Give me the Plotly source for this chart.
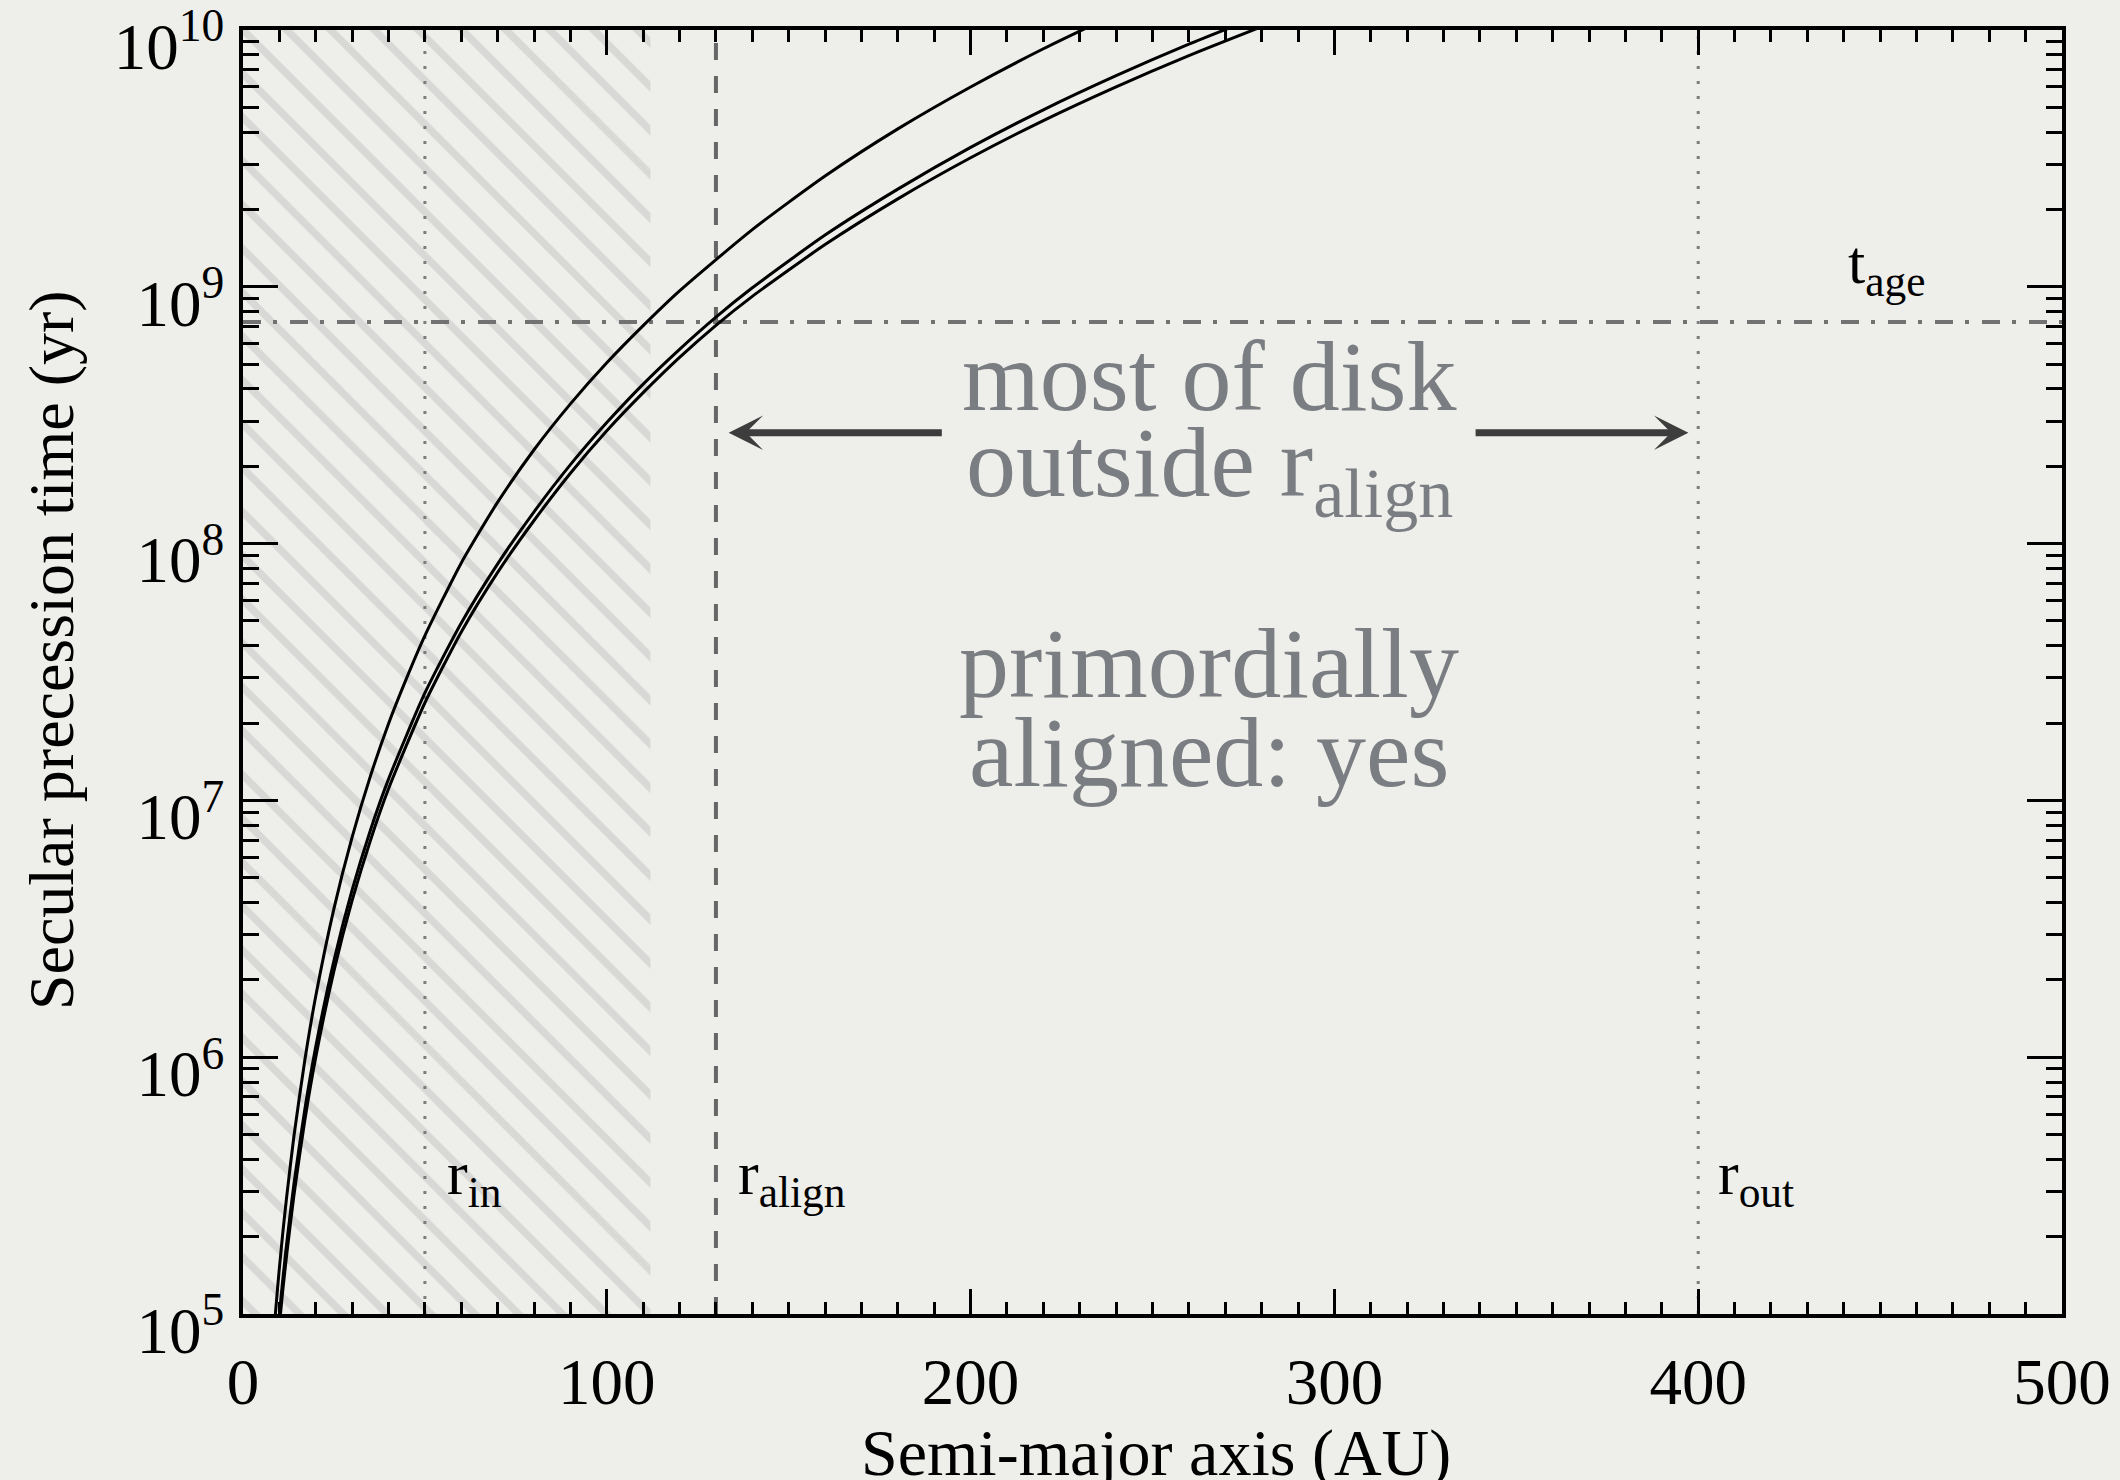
import plotly.graph_objects as go

# Secular precession time vs semi-major axis for three perturber models
a_1 = [8.8, 9.5, 10, 11, 12, 14, 17, 20, 25, 30, 35, 40, 45, 50, 60, 70, 80, 90,
       100, 110, 120, 140, 160, 180, 200, 220, 235]
t_1 = [9.6e4, 1.26e5, 1.51e5, 2.11e5, 2.86e5, 4.92e5, 9.75e5, 1.73e6, 3.79e6,
       7.19e6, 1.24e7, 1.99e7, 3.00e7, 4.38e7, 8.41e7, 1.45e8, 2.32e8, 3.50e8,
       5.06e8, 7.06e8, 9.64e8, 1.67e9, 2.70e9, 4.12e9, 6.00e9, 8.45e9, 1.07e10]

a_2 = [9.9, 10.5, 11, 12, 14, 17, 20, 25, 30, 35, 40, 50, 60, 70, 80, 90, 100,
       110, 120, 130, 140, 160, 180, 200, 220, 240, 260, 272]
t_2 = [9.66e4, 1.18e5, 1.39e5, 1.88e5, 3.21e5, 6.27e5, 1.10e6, 2.38e6, 4.48e6,
       7.64e6, 1.21e7, 2.62e7, 4.91e7, 8.34e7, 1.33e8, 2.03e8, 2.96e8, 4.18e8,
       5.71e8, 7.62e8, 9.91e8, 1.59e9, 2.40e9, 3.49e9, 4.89e9, 6.64e9, 8.81e9, 1.03e10]

a_3 = [10.2, 10.5, 11, 12, 14, 17, 20, 25, 30, 35, 40, 50, 60, 70, 80, 90, 100,
       110, 120, 130, 140, 160, 180, 200, 220, 240, 260, 280]
t_3 = [9.67e4, 1.07e5, 1.26e5, 1.70e5, 2.90e5, 5.69e5, 1.00e6, 2.17e6, 4.08e6,
       6.97e6, 1.11e7, 2.40e7, 4.53e7, 7.73e7, 1.23e8, 1.88e8, 2.75e8, 3.87e8,
       5.31e8, 7.08e8, 9.18e8, 1.46e9, 2.20e9, 3.18e9, 4.44e9, 6.01e9, 7.95e9, 1.03e10]

# Characteristic radii (AU) and system age (yr)
r_in = 50
r_align = 130
r_out = 400
r_hatch = 112
t_age = 7.3e8

x_range = [0, 500]
y_range = [1e5, 1e10]
y_exponents = [5, 6, 7, 8, 9, 10]

x_title = "Semi-major axis (AU)"
y_title = "Secular precession time (yr)"

SERIF = "Liberation Serif"
BG = "#eeeeea"
TEXT_GREY = "#7a7d81"

fig = go.Figure()

# hatched inner region
fig.add_trace(go.Scatter(
    x=[0, r_hatch, r_hatch, 0, 0],
    y=[y_range[0], y_range[0], y_range[1], y_range[1], y_range[0]],
    mode="lines", fill="toself", line=dict(width=0),
    fillcolor="rgba(0,0,0,0)",
    fillpattern=dict(shape="\\", fgcolor="#c2c2c2", bgcolor="rgba(0,0,0,0)",
                     size=31, solidity=0.24),
    hoverinfo="skip", showlegend=False,
))

# reference radii
for r, dash, color, w in [(r_in, "3px,12px", "#7c7c7c", 3),
                          (r_align, "17px,16px", "#666666", 4),
                          (r_out, "3px,12px", "#7c7c7c", 3)]:
    fig.add_trace(go.Scatter(x=[r, r], y=y_range, mode="lines",
                             line=dict(color=color, width=w, dash=dash),
                             hoverinfo="skip", showlegend=False))

# system age
fig.add_trace(go.Scatter(x=x_range, y=[t_age, t_age], mode="lines",
                         line=dict(color="#727272", width=4, dash="18px,12px,4px,13px"),
                         hoverinfo="skip", showlegend=False))

# precession-time curves
for a, t in [(a_1, t_1), (a_2, t_2), (a_3, t_3)]:
    fig.add_trace(go.Scatter(x=a, y=t, mode="lines",
                             line=dict(color="black", width=3, shape="spline", smoothing=0.6),
                             showlegend=False))

annotations = [
    dict(x=55.5, y=5.53, text="r<sub>in</sub>", xanchor="left"),
    dict(x=135.6, y=5.53, text="r<sub>align</sub>", xanchor="left"),
    dict(x=405, y=5.53, text="r<sub>out</sub>", xanchor="left"),
    dict(x=440.7, y=9.08, text="t<sub>age</sub>", xanchor="left"),
]
for ann in annotations:
    ann.update(xref="x", yref="y", showarrow=False, yanchor="middle",
               font=dict(family=SERIF, size=62, color="black"))

big_lines = [
    ("most of disk", 8.652),
    ("outside r<sub>align</sub>", 8.290),
    ("primordially", 7.534),
    ("aligned: yes", 7.188),
]
for txt, yy in big_lines:
    annotations.append(dict(x=265.6, y=yy, text=txt, xref="x", yref="y",
                            showarrow=False, xanchor="center", yanchor="middle",
                            font=dict(family=SERIF, size=100, color=TEXT_GREY)))

# arrows spanning the aligned part of the disk
arrow_y = 8.432
for tip, tail in [(133.5, 192.5), (397.3, 338.4)]:
    annotations.append(dict(x=tip, y=arrow_y, ax=tail, ay=arrow_y,
                            xref="x", yref="y", axref="x", ayref="y",
                            text="", showarrow=True, arrowhead=3, arrowsize=0.82,
                            arrowwidth=7, arrowcolor="#3d3d3d", standoff=0))

# axis titles
annotations.append(dict(x=0.502, y=-0.108, xref="paper", yref="paper", text=x_title,
                        showarrow=False, xanchor="center", yanchor="middle",
                        font=dict(family=SERIF, size=66, color="black")))
annotations.append(dict(x=-0.1056, y=0.517, xref="paper", yref="paper", text=y_title,
                        textangle=-90, showarrow=False, xanchor="center", yanchor="middle",
                        font=dict(family=SERIF, size=64, color="black")))

minor_y = [m * 10 ** e for e in range(5, 10) for m in range(2, 10)]

axis_common = dict(showline=True, linewidth=3.5, linecolor="black", mirror="ticks",
                   ticks="inside", tickwidth=3, tickcolor="black",
                   showgrid=False, zeroline=False, automargin=False,
                   ticklabeloverflow="allow",
                   tickfont=dict(family=SERIF, size=65, color="black"))

fig.update_layout(
    width=2120, height=1480,
    margin=dict(l=243, r=58, t=30, b=166, pad=0),
    paper_bgcolor=BG, plot_bgcolor=BG,
    showlegend=False,
    annotations=annotations,
    xaxis=dict(range=x_range, tick0=0, dtick=100, ticklen=25,
               ticklabelstandoff=8,
               minor=dict(ticks="inside", ticklen=12, tickwidth=3, dtick=10,
                          tickcolor="black", showgrid=False),
               **axis_common),
    yaxis=dict(type="log", range=[5, 10], tickmode="array",
               tickvals=[10 ** e for e in y_exponents],
               ticktext=[f"10<sup>{e}</sup>" for e in y_exponents],
               ticklen=35, ticklabelstandoff=2, ticklabelshift=16,
               minor=dict(ticks="inside", ticklen=16, tickwidth=3,
                          tickmode="array", tickvals=minor_y,
                          tickcolor="black", showgrid=False),
               **axis_common),
)

fig.write_html("out.html")
